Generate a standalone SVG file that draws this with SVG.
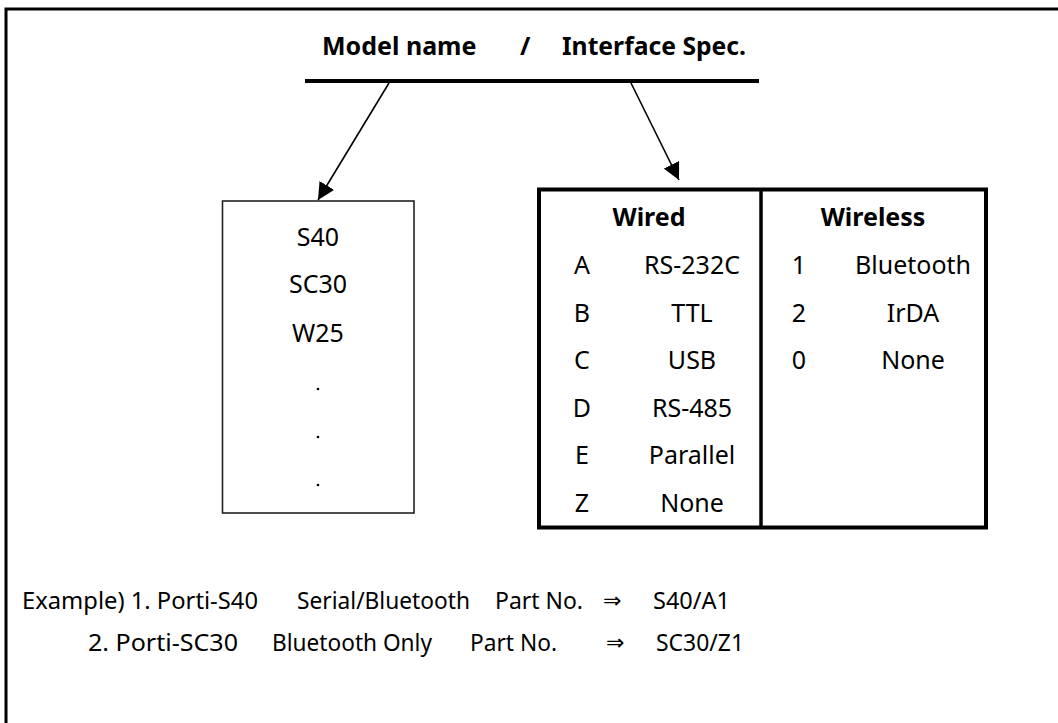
<svg xmlns="http://www.w3.org/2000/svg" width="1058" height="723" viewBox="0 0 1058 723">
<style>
  text { font-family: "Noto Sans", "Open Sans", sans-serif; fill: #000; }
  .b { font-weight: bold; font-size: 25px; }
  .t { font-size: 25px; }
  .c { text-anchor: middle; }
  .ex { font-size: 24px; }
  .arr { font-family: "DejaVu Sans", sans-serif; font-size: 22px; }
  .conn { stroke: #000; stroke-width: 1.6; fill: none; }
</style>
<defs>
  <marker id="ah" viewBox="0 0 10 10" refX="10" refY="5" markerWidth="17" markerHeight="17" markerUnits="userSpaceOnUse" orient="auto">
    <path d="M0,0 L10,5 L0,10 z" fill="#000"/>
  </marker>
</defs>
<rect width="1058" height="723" fill="#fff"/>
<path d="M6,723 V9 H1058" fill="none" stroke="#000" stroke-width="3"/>

<g id="header">
  <text class="b" x="322" y="55">Model name</text>
  <text class="b" x="520" y="55">/</text>
  <text class="b" x="562" y="55" textLength="184" lengthAdjust="spacingAndGlyphs">Interface Spec.</text>
  <line x1="305" y1="81" x2="759" y2="81" stroke="#000" stroke-width="4"/>
</g>

<g id="connectors">
  <line class="conn" x1="389" y1="83" x2="318" y2="200" marker-end="url(#ah)"/>
  <line class="conn" x1="631" y1="83" x2="679" y2="180" marker-end="url(#ah)"/>
</g>

<g id="model-box">
  <rect x="222.5" y="201" width="191.5" height="312" fill="none" stroke="#222" stroke-width="1.6"/>
  <text class="t c" x="318" y="246">S40</text>
  <text class="t c" x="318" y="293">SC30</text>
  <text class="t c" x="318" y="342">W25</text>
  <circle cx="318" cy="389" r="1.3" fill="#000"/>
  <circle cx="318" cy="437" r="1.3" fill="#000"/>
  <circle cx="318" cy="485" r="1.3" fill="#000"/>
</g>

<g id="interface-table">
  <rect x="539" y="189.5" width="447" height="338" fill="none" stroke="#000" stroke-width="4"/>
  <line x1="761" y1="189.5" x2="761" y2="527.5" stroke="#000" stroke-width="3.5"/>
  <text class="b c" x="649" y="226">Wired</text>
  <text class="b c" x="873" y="226">Wireless</text>
  <text class="t c" x="582" y="274">A</text>
  <text class="t c" x="692" y="274">RS-232C</text>
  <text class="t c" x="582" y="322">B</text>
  <text class="t c" x="692" y="322">TTL</text>
  <text class="t c" x="582" y="369">C</text>
  <text class="t c" x="692" y="369">USB</text>
  <text class="t c" x="582" y="417">D</text>
  <text class="t c" x="692" y="417">RS-485</text>
  <text class="t c" x="582" y="464">E</text>
  <text class="t c" x="692" y="464">Parallel</text>
  <text class="t c" x="582" y="512">Z</text>
  <text class="t c" x="692" y="512">None</text>
  <text class="t c" x="799" y="274">1</text>
  <text class="t c" x="913" y="274">Bluetooth</text>
  <text class="t c" x="799" y="322">2</text>
  <text class="t c" x="913" y="322">IrDA</text>
  <text class="t c" x="799" y="369">0</text>
  <text class="t c" x="913" y="369">None</text>
</g>

<g id="examples">
  <text class="ex" x="22" y="609" textLength="236" lengthAdjust="spacingAndGlyphs">Example) 1. Porti-S40</text>
  <text class="ex" x="297" y="609" textLength="173" lengthAdjust="spacingAndGlyphs">Serial/Bluetooth</text>
  <text class="ex" x="495" y="609" textLength="88" lengthAdjust="spacingAndGlyphs">Part No.</text>
  <text class="arr" x="603" y="608">⇒</text>
  <text class="ex" x="653" y="609" textLength="77" lengthAdjust="spacingAndGlyphs">S40/A1</text>
  <text class="ex" x="88" y="651" textLength="150" lengthAdjust="spacingAndGlyphs">2. Porti-SC30</text>
  <text class="ex" x="272" y="651" textLength="160" lengthAdjust="spacingAndGlyphs">Bluetooth Only</text>
  <text class="ex" x="470" y="651" textLength="87" lengthAdjust="spacingAndGlyphs">Part No.</text>
  <text class="arr" x="606" y="650">⇒</text>
  <text class="ex" x="656" y="651" textLength="88" lengthAdjust="spacingAndGlyphs">SC30/Z1</text>
</g>
</svg>
